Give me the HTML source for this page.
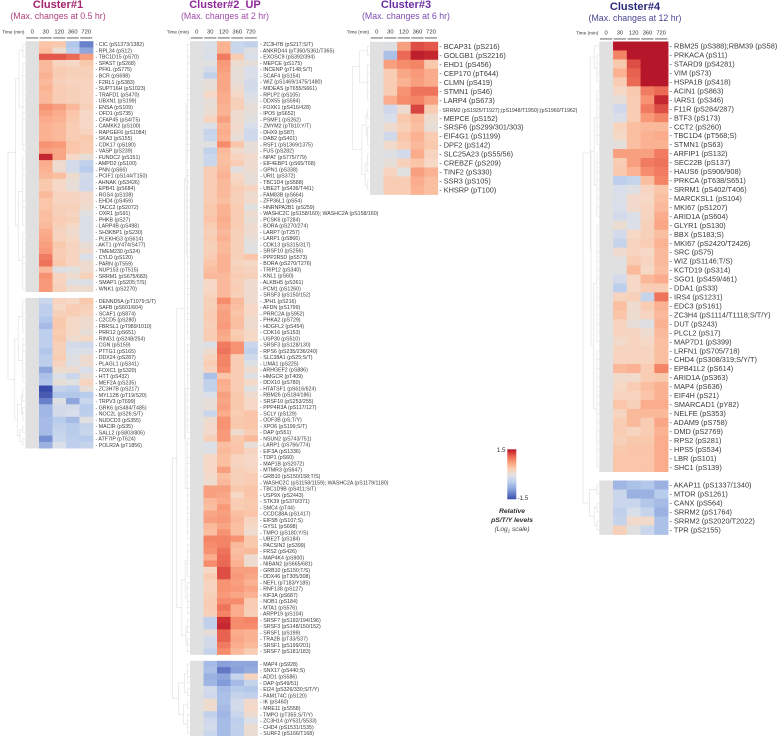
<!DOCTYPE html>
<html lang="en">
<head>
<meta charset="utf-8">
<title>Phosphosite clusters heatmap</title>
<style>
html,body{margin:0;padding:0;background:#fff;width:778px;height:736px;overflow:hidden}
svg{display:block;font-family:"Liberation Sans",Arial,sans-serif;filter:blur(.35px)}
</style>
</head>
<body>
<svg id="chart" xmlns="http://www.w3.org/2000/svg" width="778" height="736" viewBox="0 0 778 736"></svg>
<script>
const timeLabels = ["0","30","120","360","720"];

const c1UpperLabels = ["CIC (pS1373/1382)","RPL34 (pS12)","TBC1D15 (pS70)","SPAST (pS268)","PFKL (pS775)","BCR (pS698)","F2RL1 (pS383)","SUPT16H (pS1023)","TRAFD1 (pS470)","UBXN1 (pS199)","ENSA (pS109)","OFD1 (pS735)","CFAP45 (pS4/T5)","CAMKK2 (pS100)","RAPGEF6 (pS1084)","SKA3 (pS155)","CDK17 (pS180)","VASP (pS239)","FUNDC2 (pS151)","AMPD2 (pS100)","PNN (pS66)","PCIF1 (pS144/T150)","AHNAK (pS3426)","EPB41 (pS684)","RGS4 (pS108)","EHD4 (pS459)","TACC2 (pS2072)","OXR1 (pS91)","PHKB (pS27)","LARP4B (pS498)","SH3KBP1 (pS230)","PLEKHG3 (pS614)","AKT1 (pY474/S477)","TMEM230 (pS24)","CYLD (pS120)","PARN (pT559)","NUP153 (pT515)","SRRM1 (pS675/683)","SMAP1 (pS205;T/S)","WNK1 (pS2270)"];
const c1UpperValues = [[.4,.35,-.55,-1.15],[.45,.1,-.45,-.85],[1.15,1.15,1.05,.7],[.5,.2,.15,.35],[.5,.3,.25,.25],[.55,.3,.25,.25],[.5,.25,.2,.2],[.55,.3,.25,.2],[.5,.3,.25,.2],[.5,.3,.25,.2],[.8,.7,.5,.25],[.7,.6,.4,.15],[.6,.55,.35,.15],[.55,.5,.3,.15],[.55,.5,.3,.2],[.55,.5,.3,.35],[.8,.75,.4,.3],[.7,.65,.4,.3],[1.4,.65,.15,.05],[.6,.1,-.2,-.4],[.55,.1,-.2,-.5],[.5,.45,.1,-.2],[.35,.15,.05,-.25],[.35,.15,.05,-.25],[.5,.2,.2,.12],[.4,.2,.2,.12],[.4,.25,.25,.1],[.45,.25,.2,0],[.45,.3,.25,-.1],[.5,.25,.15,-.1],[.6,.2,.1,-.1],[.65,.2,.15,-.1],[.7,.35,.2,.05],[.75,.3,.2,.1],[.95,.3,.2,-.1],[1,.35,.2,.1],[.5,-.05,0,.1],[.8,.2,.1,.25],[.75,.2,-.05,-.1],[.75,.25,.1,.1]];
const c1LowerLabels = ["DENND5A (pT1079;S/T)","SAFB (pS601/604)","SCAF1 (pS874)","C2CD5 (pS280)","FBRSL1 (pT989/1010)","PRR12 (pS651)","RING1 (pS248/254)","CGN (pS159)","PTTG1 (pS165)","DDX24 (pS287)","PLAGL1 (pS341)","FOXC1 (pS320)","HTT (pS432)","MEF2A (pS235)","ZC3H7B (pS217)","MYL12B (pT19/S20)","TRPV3 (pT699)","GRK6 (pS484/T485)","NOC2L (pS26;S/T)","NUDCD3 (pS355)","MACIR (pS35)","SALL2 (pS803/806)","ATF7IP (pT624)","POLR2A (pT1856)"];
const c1LowerValues = [[-.3,.2,.15,.35],[-.45,.15,.3,.25],[-.45,.25,.3,.2],[-.55,.35,.15,.1],[-.65,.35,.15,.1],[-.45,.3,.15,.05],[-.45,.35,.1,.15],[-.45,.25,-.2,-.25],[-.55,.25,-.15,-.1],[-.45,.3,-.05,.1],[-.45,.2,-.05,.1],[-.85,.1,.1,-.15],[-.6,-.1,-.3,.05],[-.55,.05,0,.2],[-1.5,-.35,-.45,.05],[-1.4,-.55,-.55,-.5],[-1.15,-.05,-.85,-.3],[-.7,-.2,-.2,-.5],[-.7,-.2,-.15,-.45],[-.65,-.5,-.65,0],[-.65,-.4,-.5,-.35],[-.65,-.35,-.5,-.3],[-1.05,-.3,-.45,-.5],[-.75,-.1,-.45,-.35]];

const c2UpperLabels = ["ZC3H7B (pS217;S/T)","ANKRD44 (pT360/S361/T365)","EXOSC9 (pS392/394)","MEPCE (pS175)","INCENP (pT148;S/T)","SCAF4 (pS154)","WIZ (pS1469/1475/1480)","MIDEAS (pT655/S661)","RPLP2 (pS105)","DDX55 (pS594)","FOXK1 (pS416/428)","IPO5 (pS652)","PSMF1 (pS262)","ZMYM2 (pT810;Y/T)","DHX9 (pS87)","DAB2 (pS401)","RSF1 (pS1369/1375)","FUS (pS282)","NPAT (pS775/779)","EIF4EBP1 (pS65/T68)","GPN1 (pS338)","URI1 (pS372)","TBC1D4 (pS588)","UBE2T (pS436/T441)","FAM83B (pS664)","ZFP36L1 (pS54)","HNRNPA2B1 (pS259)","WASHC2C (pS158/160); WASHC2A (pS158/160)","PCSK6 (pT284)","BORA (pS270/274)","LARP7 (pT257)","LARP1 (pS866)","CDK13 (pS315/317)","SRSF10 (pS256)","PPP2R5D (pS573)","BORA (pS270/T276)","TRIP12 (pS340)","KNL1 (pS60)","ALKBH5 (pS361)","PCM1 (pS1260)","SRSF3 (pS150/152)","JPH1 (pS216)","AFDN (pS1799)","PRRC2A (pS952)","PHKA2 (pS729)","HDGFL2 (pS454)","CDK16 (pS153)","USP30 (pS510)","SRSF3 (pS128/130)","RPS6 (pS235/236/240)","SLC38A1 (pS25;S/T)","LIMA1 (pS225)","ARHGEF2 (pS886)","HMGCR (pT409)","DDX10 (pS780)","HTATSF1 (pS616/624)","RBM26 (pS184/186)","SRSF10 (pS253/255)","PPP4R3A (pS117/127)","SCLY (pS129)","ODF3B (pS;T/Y)","XPO6 (pS199;S/T)","DAP (pS51)","NSUN2 (pS743/751)","LARP1 (pS766/774)","EIF3A (pS1336)","TDP1 (pS60)","MAP1B (pS2072)","MTMR3 (pS647)","GRB10 (pS150/158;T/S)","WASHC2C (pS1158/1159); WASHC2A (pS1179/1180)","TBC1D9B (pS411;S/T)","USP9X (pS2443)","STK39 (pS370/371)","SMC4 (pT44)","CCDC88A (pS1417)","EIF5B (pS107;S)","GYS1 (pS698)","TMPO (pS180;Y/S)","UBE2T (pS184)","PACSIN2 (pS399)","FRS2 (pS426)","MAP4K4 (pS900)","NIBAN2 (pS665/681)","GRB10 (pS150;T/S)","DDX46 (pT305/308)","NEFL (pT183/Y185)","RNF138 (pS127)","KIF3A (pS687)","NOB1 (pS184)","MTA1 (pS576)","ARPP19 (pS104)","SRSF7 (pS192/194/196)","SRSF3 (pS148/150/152)","SRSF1 (pS199)","TRA2B (pT33/S37)","SRSF1 (pS199/201)","SRSF7 (pS181/183)"];
const c2UpperValues = [[-.1,.55,-.3,-.4],[-.08,.55,-.3,-.05],[-.15,.95,.3,-.15],[0,.75,.1,.05],[-.2,.7,.05,-.15],[-.4,.65,.05,-.1],[.05,.65,.05,-.2],[.05,.65,.1,-.2],[.15,.6,.15,-.12],[.05,.6,.25,0],[.05,.55,.25,.05],[.08,.55,.1,.03],[.2,.7,.1,0],[-.08,.55,.12,-.15],[-.35,.6,.1,-.25],[-.3,.55,.05,-.25],[0,.85,.4,.05],[-.4,.5,.12,.05],[-.3,.45,.2,.12],[-.3,.45,.3,.1],[.3,.5,0,.1],[.3,.55,.15,.05],[.3,.5,.2,.05],[.3,.5,.3,.2],[.3,.5,.25,.1],[.3,.45,.25,.12],[.35,.55,.3,0],[.35,.55,.3,.1],[.4,.6,.3,.05],[.3,.55,.3,.1],[.25,.5,.25,.1],[.3,.55,.25,.05],[.25,.5,.25,0],[.25,.5,.25,0],[.3,.55,.25,.4],[.4,.55,.2,.15],[.45,.55,.25,.2],[.5,.5,.3,.25],[.15,.5,.25,.1],[.15,.5,.3,.1],[.2,.5,.25,.1],[.25,.85,.5,.1],[.25,.65,.45,.15],[.3,.7,.4,.15],[.3,.7,.45,.1],[.25,.75,.45,.1],[.3,.65,.3,.15],[.3,.6,.35,.15],[-.1,.95,.8,-.3],[.1,1,.8,-.4],[.2,.9,.3,-.25],[.3,.9,.3,-.05],[.2,.85,.3,.1],[-.6,.4,.3,-.05],[-.4,.6,.3,.15],[-.4,.55,.3,0],[-.1,.7,.35,.1],[.05,.65,.35,.15],[.05,.7,.35,.15],[-.3,.6,.3,.4],[.1,.8,.35,.4],[.12,.8,.35,.4],[.12,.75,.1,.3],[.25,.75,.35,.5],[-.1,.45,.4,.05],[-.05,.5,.4,.2],[.15,.45,.2,.15],[.15,.45,.2,.15],[.15,.7,.25,.2],[.12,.45,.25,.3],[.1,.5,.25,.3],[.7,.7,.35,.4],[.7,.65,.15,.4],[.5,.6,.3,.35],[.45,.75,.3,.35],[.65,.7,.45,.4],[.7,.75,.5,.2],[.5,.65,.45,.15],[.45,.8,.45,.1],[.9,.9,.8,.35],[.85,.9,.5,.35],[.8,1,.45,.5],[.6,1.05,.5,.1],[.85,1.05,.55,.1],[.15,1.2,.7,.7],[.3,1.2,.75,.65],[.2,.8,.7,.55],[.2,.8,.75,.65],[.25,.75,.65,.55],[.3,.85,.85,.3],[.3,1,.6,.3],[.25,.9,.6,.25],[-.4,1.35,.85,.9],[-.4,1.4,.85,.85],[.05,1.1,.6,.55],[-.2,1.1,.65,.55],[-.2,.95,.6,.5],[-.35,.85,.5,.3]];
const c2LowerLabels = ["MAP4 (pS928)","SNX17 (pS440;S)","ADD1 (pS586)","DAP (pS49/51)","EI24 (pS326/330;S/T/Y)","FAM174C (pS120)","IK (pS460)","MRE11 (pS558)","TMPO (pT355;S/T/Y)","ZC3H14 (pY531/S533)","CHD4 (pS1531/1535)","SURF2 (pS166/T168)"];
const c2LowerValues = [[-.65,-.9,-.85,-.85],[-.6,-1.2,-.9,-.8],[-.75,-.85,-.35,.2],[-.7,-.95,-.65,-.35],[-.2,-.65,-.5,-.55],[-.25,-.6,-.35,-.4],[.1,-.6,-.2,.12],[.1,-.65,-.2,.15],[-.4,-.7,-.3,.1],[-.25,-.65,-.45,-.1],[-.2,-.65,-.4,.08],[-.3,-.65,-.4,.08]];

const c3Labels = ["BCAP31 (pS216)","GOLGB1 (pS2216)","EHD1 (pS456)","CEP170 (pT644)","CLMN (pS419)","STMN1 (pS46)","LARP4 (pS673)","SRRM2 (pS1925/T1927);(pS1948/T1950);(pS1960/T1962)","MEPCE (pS152)","SRSF6 (pS299/301/303)","EIF4G1 (pS1199)","DPF2 (pS142)","SLC25A23 (pS55/56)","CREBZF (pS209)","TINF2 (pS330)","SSR3 (pS105)","KHSRP (pT100)"];
const c3Values = [[-.05,.7,1.2,1.15],[-.6,1.05,1.45,1.4],[.7,.85,.9,.35],[.3,.65,.75,.6],[.3,.55,.7,.6],[.3,.8,1,1],[.6,.85,.9,.7],[-.25,.1,1.25,.3],[-.15,.35,.5,.1],[.1,.25,.45,.05],[-.25,.4,.55,.3],[.12,.3,.5,.35],[-.05,-.2,.6,.2],[.05,.25,.4,.15],[.2,0,.7,.55],[.3,.3,.6,.45],[.3,.3,.55,.45]];

const c4UpperLabels = ["RBM25 (pS388);RBM39 (pS58)","PRKACA (pS11)","STARD9 (pS4281)","VIM (pS73)","HSPA1B (pS418)","ACIN1 (pS863)","IARS1 (pS346)","F11R (pS284/287)","BTF3 (pS173)","CCT2 (pS260)","TBC1D4 (pT568;S)","STMN1 (pS63)","ARFIP1 (pS132)","SEC22B (pS137)","HAUS6 (pS906/908)","PRKCA (pT638/S651)","SRRM1 (pS402/T406)","MARCKSL1 (pS104)","MKI67 (pS1207)","ARID1A (pS604)","GLYR1 (pS130)","BBX (pS183;S)","MKI67 (pS2420/T2426)","SRC (pS75)","WIZ (pS1146;T/S)","KCTD19 (pS314)","SGO1 (pS459/461)","DDA1 (pS33)","IRS4 (pS1231)","EDC3 (pS161)","ZC3H4 (pS1114/T1118;S/T/Y)","DUT (pS243)","PLCL2 (pS17)","MAP7D1 (pS399)","LRFN1 (pS705/718)","CHD4 (pS308/319;S/Y/T)","EPB41L2 (pS614)","ARID1A (pS363)","MAP4 (pS636)","EIF4H (pS21)","SMARCAD1 (pY82)","NELFE (pS353)","ADAM9 (pS758)","DMD (pS2769)","RPS2 (pS281)","HPS5 (pS534)","LBR (pS101)","SHC1 (pS139)"];
const c4UpperValues = [[1.5,1.5,1.5,1.5],[.9,1.5,1.5,1.5],[.35,1.2,1.5,1.5],[.55,1.1,1.5,1.5],[.3,1.05,1.5,1.5],[.15,.35,.95,1.05],[.05,.3,.8,1.4],[-.25,.3,.95,1.2],[-.12,.3,.75,.9],[.2,.45,.5,.5],[.15,.45,.55,.6],[.03,.45,.55,.55],[.7,.7,.7,.95],[.3,.7,.95,1],[.35,.55,.85,.95],[-.45,-.35,.45,.9],[-.15,-.05,.2,.4],[-.1,.12,.15,.45],[-.15,.12,.2,.5],[-.2,-.1,.2,.6],[.08,-.1,.25,.65],[-.2,.15,.25,.45],[-.35,.2,.3,.55],[.1,.2,.15,.5],[0,.3,.2,.5],[0,.5,.15,.45],[-.2,.15,.5,.6],[-.45,.15,.3,.3],[.2,.25,-.35,1],[.45,.1,.3,.55],[.4,.1,.2,.5],[.2,.05,-.05,.55],[.2,.2,.1,.5],[.12,.2,.15,.45],[.2,.2,.2,.45],[.2,.2,.2,.45],[.5,.55,.3,.9],[.12,.12,.3,.35],[.15,.3,.45,.55],[.2,.2,.4,.55],[.4,.25,.6,.6],[.2,.5,.5,.5],[.3,.5,.3,.65],[.3,.2,.3,.55],[.25,.35,.35,.6],[.35,.4,.4,.6],[.4,.4,.4,.6],[.4,.4,.4,.6]];
const c4LowerLabels = ["AKAP11 (pS1337/1340)","MTOR (pS1261)","CANX (pS564)","SRRM2 (pS1764)","SRRM2 (pS2020/T2022)","TPR (pS2155)"];
const c4LowerValues = [[-.7,-.6,-.55,-.75],[-.3,-.75,-.75,-.5],[-.3,-.3,-.55,-.65],[-.4,-.15,-.35,-.75],[-.35,.12,.12,-.6],[.25,0,-.3,-.6]];

const legendTicks = ["1.5","-1.5"];
const legendDomain = [1.5,-1.5];

const c1Tree = [1,[.55,[.35,3,15],[.4,12,10]],[.6,[.4,6,8],[.45,[.2,3,3],[.3,2,2]]]];
const c2Tree = [1,[.75,[.3,[.2,20,28],[.25,15,17]],[.45,[.25,6,6],[.2,3,3]]],[.65,[.3,4,2],[.35,2,4]]];
const c3Tree = [1,[.6,2,5],[.45,[.2,2,3],[.25,3,2]]];
const c4Tree = [1,[.55,[.3,1,4],[.5,[.3,7,8],[.35,14,14]]],[.6,2,[.3,2,2]]];

const svg = document.getElementById('chart');
const NS = 'http://www.w3.org/2000/svg';
const colorAnchors = [[-1.5,58,76,170],[-1,125,150,215],[-.5,184,204,236],[-.15,216,222,234],[0,224,224,224],[.15,245,216,198],[.4,250,197,168],[.6,250,172,140],[.85,246,140,108],[1.1,232,98,80],[1.35,205,48,52],[1.5,182,22,42]];
function colorScale(v){
  const t = Math.max(-1.5, Math.min(1.5, v));
  for (let i = 1; i < colorAnchors.length; i++) {
    const a = colorAnchors[i-1], b = colorAnchors[i];
    if (t <= b[0]) {
      const f = (t - a[0]) / (b[0] - a[0]);
      return 'rgb(' + [1,2,3].map(k => Math.round(a[k] + (b[k]-a[k]) * f)).join(',') + ')';
    }
  }
  return 'rgb(182,22,42)';
}
function make(tag, attrs, parent){
  const el = document.createElementNS(NS, tag);
  for (const k in attrs) el.setAttribute(k, attrs[k]);
  (parent || svg).appendChild(el);
  return el;
}
function drawBlock(g, cfg, labels, values){
  const xBand = i => cfg.x0 + i * cfg.colW;
  const yBand = r => cfg.first + r * cfg.rowH;
  values.forEach((row, r) => {
    [0].concat(row).forEach((v, c) => {
      const cell = make('rect', {x:xBand(c), y:yBand(r) - cfg.rowH/2, width:cfg.colW + .4, height:cfg.rowH + .4, fill:colorScale(v)}, g);
      
      
    });
    const small = labels[r].length > 40;
    const label = make('text', {x:xBand(5) + cfg.labelGap, y:yBand(r) + cfg.font * .36, 'font-size': (cfg.tiny && small) ? cfg.tiny : cfg.font, fill:'#3a3a3a'}, g);
    
    
    label.textContent = '- ' + labels[r];
  });
}
function drawTree(g, tree, ys, x1, width){
  let cursor = 0;
  const xOf = h => x1 - h * width;
  function line(d){
    const p = make('path', {d:d, fill:'none', stroke:'#e3e3e3', 'stroke-width':.7}, g);
    
    
  }
  function walk(node){
    if (typeof node === 'number') {
      const rows = ys.slice(cursor, cursor + node);
      cursor += node;
      const xl = x1 - width * .13;
      rows.forEach(y => line('M' + xl + ' ' + y + 'H' + x1));
      if (rows.length > 1) line('M' + xl + ' ' + rows[0] + 'V' + rows[rows.length-1]);
      return {x:xl, y:(rows[0] + rows[rows.length-1]) / 2};
    }
    const a = walk(node[1]), b = walk(node[2]), x = xOf(node[0]);
    line('M' + a.x + ' ' + a.y + 'H' + x + 'V' + b.y + 'H' + b.x);
    return {x:x, y:(a.y + b.y) / 2};
  }
  walk(tree);
}
function drawHeader(g, cfg){
  timeLabels.forEach((t, i) => {
    const x = cfg.x0 + i * cfg.colW;
    const tick = make('text', {x:x + cfg.colW/2, y:cfg.tickY, 'font-size':5.8, 'text-anchor':'middle', fill:'#333'}, g);
    
    
    tick.textContent = t;
    const rule = make('rect', {x:x + .7, y:cfg.ruleY, width:cfg.colW - 1.4, height:.9, fill:'#555'}, g);
    
    
  });
  const axis = make('text', {x:cfg.x0 - 1, y:cfg.tickY, 'font-size':4.7, 'text-anchor':'end', fill:'#333'}, g);
  
  
  axis.textContent = 'Time (min)';
}
function drawTitle(g, text, sub, cx, y1, y2, colour, subColour){
  const t = make('text', {x:cx, y:y1, 'font-size':11, 'font-weight':'bold', 'text-anchor':'middle', fill:colour}, g);
  
  
  t.textContent = text;
  const s = make('text', {x:cx, y:y2, 'font-size':8.8, 'text-anchor':'middle', fill:subColour}, g);
  
  
  s.textContent = sub;
}
function ysFor(cfg, n){
  const out = [];
  for (let i = 0; i < n; i++) out.push(cfg.first + i * cfg.rowH);
  return out;
}
function drawPanel(name, header, title, blocks, tree, tree_x, tree_w){
  const g = make('g', {});
  
  
  drawTitle(g, title[0], title[1], title[2], title[3], title[4], title[5], title[6]);
  drawHeader(g, header);
  let ys = [];
  blocks.forEach(b => { ys = ys.concat(ysFor(b.cfg, b.labels.length)); });
  drawTree(g, tree, ys, tree_x, tree_w);
  blocks.forEach(b => drawBlock(g, b.cfg, b.labels, b.values));
}

drawPanel('cluster-1-panel', {x0:25.5, colW:13.5, tickY:33.5, ruleY:37.5},
  ['Cluster#1','(Max. changes at 0.5 hr)',58,8,19,'#a3246e','#b0407f'],
  [{cfg:{x0:25.5, colW:13.5, first:44.3, rowH:6.26, font:5.25, labelGap:2.5}, labels:c1UpperLabels, values:c1UpperValues},
   {cfg:{x0:25.5, colW:13.5, first:301, rowH:6.26, font:5.25, labelGap:2.5}, labels:c1LowerLabels, values:c1LowerValues}],
  c1Tree, 25, 17);

drawPanel('cluster-2-panel', {x0:190, colW:13.5, tickY:33.5, ruleY:37.5},
  ['Cluster#2_UP','(Max. changes at 2 hr)',225,8,19,'#8f2a9a','#a04aaa'],
  [{cfg:{x0:190, colW:13.5, first:44.3, rowH:6.258, font:5.25, labelGap:2.5}, labels:c2UpperLabels, values:c2UpperValues},
   {cfg:{x0:190, colW:13.5, first:664, rowH:6.3, font:5.25, labelGap:2.5}, labels:c2LowerLabels, values:c2LowerValues}],
  c2Tree, 189.5, 17);

drawPanel('cluster-3-panel', {x0:370, colW:13.55, tickY:33.5, ruleY:37.5},
  ['Cluster#3','(Max. changes at 6 hr)',406,8,19,'#6a2ea0','#7d4cb0'],
  [{cfg:{x0:370, colW:13.55, first:46.3, rowH:8.98, font:7.3, tiny:5.2, labelGap:1.5}, labels:c3Labels, values:c3Values}],
  c3Tree, 369.5, 17);

drawPanel('cluster-4-panel', {x0:599.3, colW:13.75, tickY:34.5, ruleY:38.5},
  ['Cluster#4','(Max. changes at 12 hr)',635,10,21,'#2c2a7c','#484690'],
  [{cfg:{x0:599.3, colW:13.75, first:46, rowH:8.96, font:7.35, labelGap:1.5}, labels:c4UpperLabels, values:c4UpperValues},
   {cfg:{x0:599.3, colW:13.75, first:485, rowH:9, font:7.35, labelGap:1.5}, labels:c4LowerLabels, values:c4LowerValues}],
  c4Tree, 599, 16);

const legend = make('g', {});


const defs = make('defs', {}, legend);
const grad = make('linearGradient', {id:'legendGradient', x1:0, y1:0, x2:0, y2:1}, defs);
for (let i = 0; i <= 30; i++) {
  const v = legendDomain[0] + (legendDomain[1] - legendDomain[0]) * i / 30;
  make('stop', {offset:(i / 30 * 100) + '%', 'stop-color':colorScale(v)}, grad);
}
const bar = make('rect', {x:507.3, y:449.3, width:9, height:50, fill:'url(#legendGradient)'}, legend);


const maxTick = make('text', {x:505.5, y:452, 'font-size':6.2, 'text-anchor':'end', fill:'#333'}, legend);


maxTick.textContent = legendTicks[0];
const minTick = make('text', {x:517.5, y:500, 'font-size':6.2, fill:'#333'}, legend);


minTick.textContent = legendTicks[1];
const legendTitle1 = make('text', {x:512, y:513, 'font-size':6.8, 'font-weight':'bold', 'font-style':'italic', 'text-anchor':'middle', fill:'#333'}, legend);


legendTitle1.textContent = 'Relative';
const legendTitle2 = make('text', {x:512, y:522, 'font-size':6.8, 'font-weight':'bold', 'font-style':'italic', 'text-anchor':'middle', fill:'#333'}, legend);


legendTitle2.textContent = 'pS/T/Y levels';
const legendTitle3 = make('text', {x:512, y:531, 'font-size':6.6, 'font-style':'italic', 'text-anchor':'middle', fill:'#444'}, legend);


legendTitle3.appendChild(document.createTextNode('(Log'));
const subscript = make('tspan', {'font-size':4.4, dy:1.5}, legendTitle3);
subscript.textContent = '2';
const scaleText = make('tspan', {dy:-1.5}, legendTitle3);
scaleText.textContent = ' scale)';
</script>
</body>
</html>
